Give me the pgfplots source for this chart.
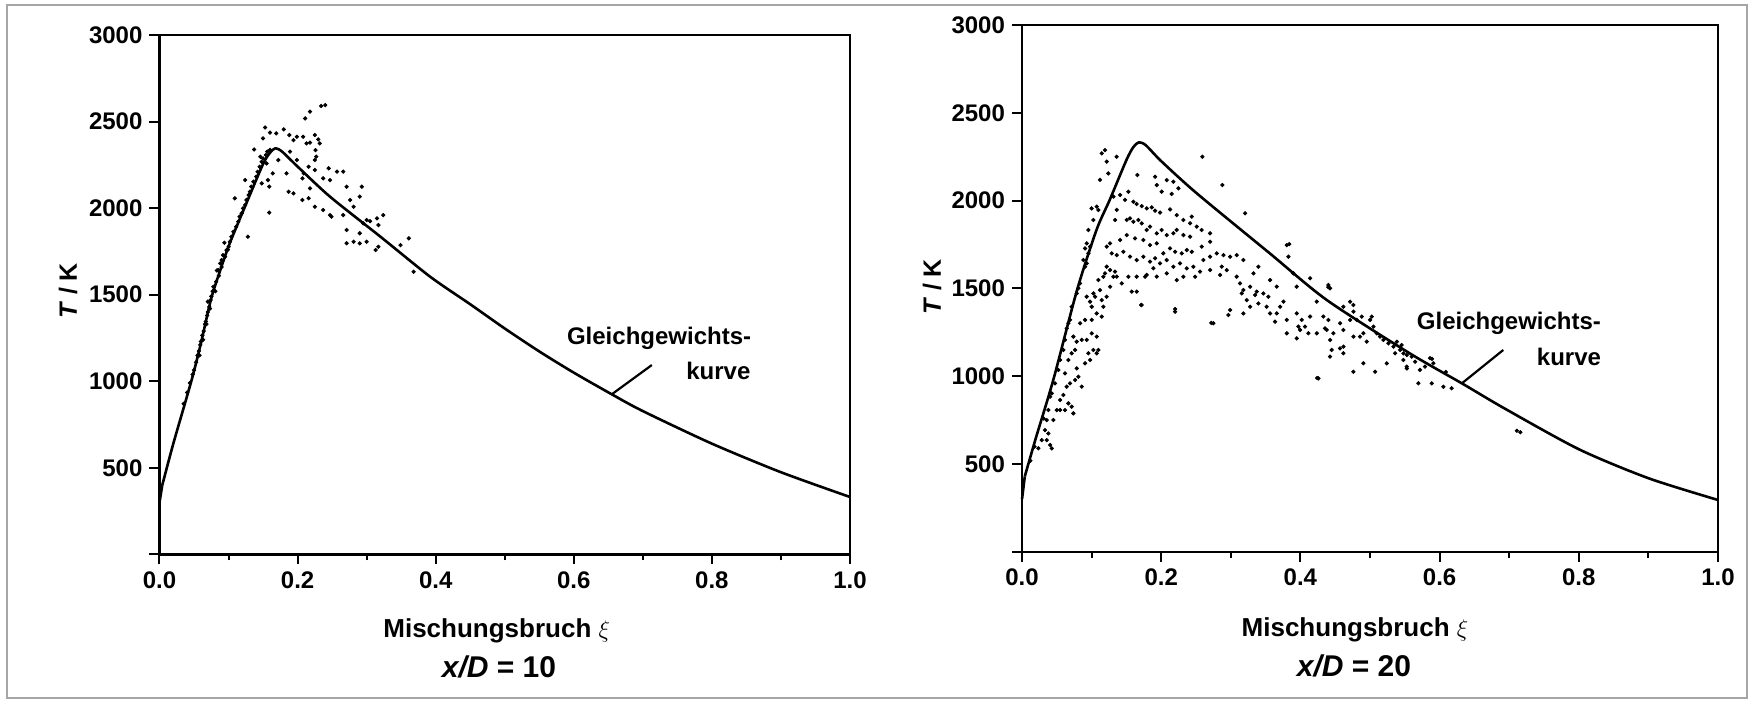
\documentclass[border=0pt]{standalone}
\usepackage{fontspec}
\setmainfont{Liberation Sans}
\usepackage{pgfplots}
\usepackage{pgfplotstable}
\pgfplotsset{compat=1.18}

\pgfplotstableread{
x T
0 300
0.004 400
}\startA

\pgfplotstableread{
x T
0.004 400
0.02 640
0.046 1000
0.06 1220
0.075 1480
0.09 1665
0.102 1800
0.126 2030
0.150 2255
0.160 2320
0.168 2346
0.178 2325
0.2 2240
0.247 2066
0.32 1835
0.392 1604
0.45 1445
0.5 1305
0.551 1170
0.6 1050
0.655 925
0.7 828
0.8 640
0.9 475
1.0 332
}\curveA

\pgfplotstableread{
x T
0 300
0.004 430
}\startB

\pgfplotstableread{
x T
0.004 430
0.02 650
0.045 980
0.079 1490
0.107 1833
0.126 2004
0.150 2231
0.160 2305
0.168 2332
0.178 2315
0.2 2225
0.251 2042
0.356 1700
0.438 1434
0.557 1131
0.632 960
0.692 820
0.8 585
0.9 420
1.0 296
}\curveB

\pgfplotstableread{
x T
0.035 870
0.040 935
0.044 990
0.048 1040
0.050 1065
0.053 1110
0.055 1150
0.057 1175
0.058 1150
0.059 1210
0.060 1230
0.062 1265
0.063 1240
0.064 1290
0.066 1330
0.067 1345
0.068 1330
0.069 1380
0.070 1400
0.070 1460
0.072 1430
0.073 1420
0.074 1470
0.075 1490
0.077 1520
0.078 1546
0.081 1520
0.082 1575
0.083 1640
0.085 1643
0.086 1610
0.088 1681
0.090 1700
0.090 1660
0.092 1729
0.094 1800
0.095 1720
0.097 1758
0.099 1760
0.100 1777
0.102 1806
0.104 1835
0.107 1864
0.109 2057
0.111 1893
0.114 1922
0.116 1951
0.119 1970
0.121 1999
0.124 2018
0.124 2162
0.126 2047
0.128 1835
0.129 2076
0.131 2095
0.133 2124
0.136 2153
0.137 2339
0.140 2182
0.142 2210
0.145 2239
0.146 2297
0.148 2268
0.148 2143
0.150 2287
0.150 2403
0.153 2466
0.154 2307
0.155 2258
0.156 2326
0.157 2162
0.159 2124
0.159 1974
0.160 2336
0.160 2436
0.164 2201
0.169 2432
0.172 2278
0.180 2455
0.184 2201
0.187 2095
0.188 2422
0.189 2326
0.194 2393
0.194 2085
0.199 2412
0.199 2278
0.207 2172
0.207 2047
0.208 2412
0.209 2201
0.211 2518
0.213 2374
0.216 2239
0.216 2057
0.218 2557
0.218 2378
0.218 2114
0.225 2422
0.225 2278
0.225 2220
0.225 2008
0.226 2335
0.227 2297
0.230 2397
0.232 2374
0.234 2590
0.237 2172
0.237 1989
0.240 2595
0.245 2230
0.247 2162
0.247 1960
0.249 1951
0.257 2211
0.266 2211
0.266 1960
0.271 2124
0.271 1874
0.271 1797
0.276 2047
0.281 2008
0.281 1806
0.290 2066
0.290 1855
0.290 1797
0.293 2124
0.295 1912
0.300 1931
0.300 1806
0.305 1925
0.313 1758
0.315 1941
0.317 1902
0.317 1777
0.324 1960
0.349 1787
0.361 1826
0.368 1633
}\scatterA

\pgfplotstableread{
x T
0.012 520
0.018 600
0.0235 590
0.0283 637
0.033 694
0.0355 751
0.0379 808
0.0403 884
0.0427 903
0.0475 960
0.0523 1036
0.0547 1093
0.0594 1150
0.0618 1207
0.0642 1273
0.0666 1302
0.069 1321
0.0714 1396
0.0786 1472
0.081 1501
0.0834 1529
0.0906 1624
0.093 1643
0.0882 1662
0.0954 1700
0.0906 1728
0.093 1757
0.0978 1738
0.031 760
0.0379 675
0.0427 590
0.0355 637
0.0403 609
0.045 751
0.0547 865
0.05 808
0.0618 1017
0.0666 1093
0.0714 1131
0.0762 1150
0.0547 808
0.0618 808
0.0666 846
0.0714 827
0.0738 789
0.0594 894
0.0642 941
0.069 960
0.0762 979
0.081 998
0.0858 941
0.0786 1045
0.0906 1074
0.0978 1093
0.1073 1131
0.1026 1150
0.0954 1131
0.093 1207
0.1002 1245
0.1073 1226
0.1097 1150
0.0858 1207
0.0786 1197
0.0738 1226
0.0834 1302
0.0906 1321
0.1002 1321
0.1073 1358
0.1145 1340
0.1169 1396
0.1145 1434
0.1121 1491
0.1049 1453
0.0978 1425
0.093 1453
0.1026 1472
0.1097 1548
0.1169 1567
0.1193 1586
0.1217 1624
0.1265 1605
0.1313 1567
0.1361 1567
0.1337 1596
0.1265 1510
0.1217 1453
0.1002 1396
0.1193 2288
0.1145 2269
0.136 2250
0.1217 2222
0.124 2155
0.112 2118
0.1073 1966
0.100 1956
0.1097 1947
0.1026 1890
0.0954 1833
0.1658 2146
0.1912 2136
0.208 2117
0.2175 2108
0.2247 2070
0.1936 2089
0.2007 2051
0.2151 2038
0.1528 2051
0.148 2004
0.16 1994
0.1648 1981
0.172 1969
0.1792 1956
0.1864 1962
0.1912 1943
0.1984 1932
0.2127 1950
0.2223 1918
0.2319 1890
0.2439 1909
0.2415 1871
0.1409 2032
0.1313 2023
0.1361 1947
0.1337 1890
0.1505 1890
0.1552 1899
0.16 1880
0.1672 1890
0.172 1871
0.1792 1833
0.184 1852
0.1936 1814
0.2007 1833
0.2079 1804
0.2175 1814
0.2223 1833
0.2319 1804
0.2415 1795
0.251 1852
0.2582 1833
0.2702 1814
0.2702 1766
0.2582 1738
0.2439 1709
0.2367 1719
0.2295 1700
0.2199 1709
0.2127 1728
0.2031 1700
0.1936 1757
0.184 1747
0.1744 1776
0.1624 1785
0.1505 1804
0.1409 1776
0.1265 1757
0.1217 1738
0.1289 1700
0.1361 1690
0.1457 1709
0.1552 1681
0.1648 1662
0.1744 1681
0.184 1653
0.1912 1672
0.1984 1643
0.2079 1662
0.2175 1624
0.2271 1643
0.2367 1615
0.2463 1624
0.2606 1662
0.2702 1681
0.2798 1700
0.2894 1690
0.299 1681
0.3085 1690
0.3181 1662
0.287 1624
0.2942 1605
0.2846 1577
0.2702 1605
0.2558 1596
0.2487 1567
0.2319 1567
0.2223 1548
0.2079 1586
0.1936 1567
0.1792 1577
0.1648 1567
0.1528 1567
0.1433 1529
0.1576 1482
0.1648 1482
0.172 1406
0.1768 1567
0.1888 1615
0.2199 1368
0.275 1302
0.2592 2250
0.2879 2089
0.3205 1928
0.3085 1567
0.3133 1529
0.3181 1491
0.3157 1472
0.3277 1510
0.3372 1482
0.3348 1463
0.3468 1472
0.354 1453
0.3325 1586
0.3396 1624
0.3229 1434
0.3277 1396
0.3396 1415
0.3181 1358
0.299 1377
0.2966 1349
0.3564 1548
0.366 1510
0.3756 1425
0.3708 1396
0.3564 1358
0.3636 1311
0.3804 1321
0.3947 1358
0.3971 1283
0.4019 1321
0.4067 1283
0.4115 1245
0.4139 1340
0.3947 1510
0.3899 1586
0.3804 1747
0.3828 1681
0.4139 1558
0.4235 1425
0.433 1340
0.4402 1321
0.4378 1264
0.4474 1245
0.457 1302
0.4618 1264
0.4714 1321
0.4762 1368
0.481 1321
0.4881 1340
0.5001 1321
0.4426 1501
0.4402 1520
0.4714 1425
0.4762 1406
0.4618 1396
0.5025 1340
0.5049 1283
0.5097 1245
0.5145 1226
0.5193 1207
0.5265 1188
0.5337 1169
0.5385 1197
0.5361 1131
0.5433 1150
0.5481 1131
0.5529 1121
0.4905 1245
0.4953 1197
0.4857 1226
0.4762 1226
0.4618 1169
0.457 1159
0.445 1150
0.4426 1207
0.4354 1273
0.4235 1245
0.3995 1264
0.3947 1216
0.3804 1245
0.366 1358
0.3516 1396
0.4259 988
0.4762 1026
0.5073 1026
0.5241 1074
0.5529 1045
0.4905 1074
0.4618 1131
0.4426 1112
0.5455 1178
0.5527 1055
0.5647 1083
0.5718 1036
0.579 1055
0.5862 1103
0.591 1074
0.5695 960
0.5886 960
0.6054 941
0.6173 932
0.5479 1093
0.5599 1112
0.589 1099
0.609 1025
0.171 1406
0.22 1383
0.272 1304
0.424 990
0.384 1753
0.44 1508
0.711 690
0.716 682
}\scatterB

\pgfplotsset{
 chartstyle/.style={
  scale only axis, anchor=south west,
  xmin=0, xmax=1, ymin=0, ymax=3000,
  axis line style={line width=1.3pt},
  tick align=outside, tick pos=left,
  major tick length=5pt, minor tick length=3pt,
  every tick/.style={black, line width=1pt},
  xtick={0,0.2,0.4,0.6,0.8,1},
  xticklabels={0.0,0.2,0.4,0.6,0.8,1.0},
  minor xtick={0.1,0.3,0.5,0.7,0.9},
  ytick={0,500,1000,1500,2000,2500,3000},
  yticklabels={{},500,1000,1500,2000,2500,3000},
  tick label style={font=\fontsize{12}{14}\selectfont\bfseries},
  clip=false,
 },
 dots/.style={only marks, mark=*, mark size=0.85pt, black},
 curve/.style={black, line width=1.3pt, line join=round, no marks},
}

\begin{document}
\begin{tikzpicture}
\path[use as bounding box] (0,0) rectangle (876pt,352pt);
\draw[gray!70, line width=0.6pt] (3.5pt,3pt) rectangle (873.5pt,349.5pt);

\begin{axis}[chartstyle, at={(79.75pt,74.75pt)}, width=345.25pt, height=259.75pt]
\addplot[dots] table[x=x,y=T] {\scatterA};
\addplot[curve] table[x=x,y=T] {\startA};
\addplot[curve, smooth, tension=0.45] table[x=x,y=T] {\curveA};
\node[anchor=base east, font=\fontsize{12}{14}\selectfont\bfseries] at (axis cs:0.867,1210) {Gleichgewichts-};
\node[anchor=base east, font=\fontsize{12}{14}\selectfont\bfseries] at (axis cs:0.866,1008) {kurve};
\draw[line width=1.1pt] (axis cs:0.713,1094) -- (axis cs:0.655,925);
\end{axis}

\begin{axis}[chartstyle, at={(511pt,76pt)}, width=348pt, height=263.5pt]
\addplot[dots] table[x=x,y=T] {\scatterB};
\addplot[curve] table[x=x,y=T] {\startB};
\addplot[curve, smooth, tension=0.45] table[x=x,y=T] {\curveB};
\node[anchor=base east, font=\fontsize{12}{14}\selectfont\bfseries] at (axis cs:0.842,1264) {Gleichgewichts-};
\node[anchor=base east, font=\fontsize{12}{14}\selectfont\bfseries] at (axis cs:0.842,1064) {kurve};
\draw[line width=1.1pt] (axis cs:0.6915,1150) -- (axis cs:0.632,960);
\end{axis}

\begin{scope}
\node[font=\fontsize{13}{15}\selectfont\bfseries] at (248.35pt,36.5pt) {Mischungsbruch $\xi$};
\node[font=\fontsize{15}{17}\selectfont\bfseries] at (249.5pt,18.65pt) {\textit{x/D} = 10};
\node[rotate=90, font=\fontsize{12.5}{14}\selectfont\bfseries] at (34pt,206.5pt) {\textit{T} / K};
\node[font=\fontsize{13}{15}\selectfont\bfseries] at (677.5pt,37pt) {Mischungsbruch $\xi$};
\node[font=\fontsize{15}{17}\selectfont\bfseries] at (677pt,19pt) {\textit{x/D} = 20};
\node[rotate=90, font=\fontsize{12.5}{14}\selectfont\bfseries] at (466pt,208.5pt) {\textit{T} / K};
\end{scope}
\end{tikzpicture}
\end{document}
